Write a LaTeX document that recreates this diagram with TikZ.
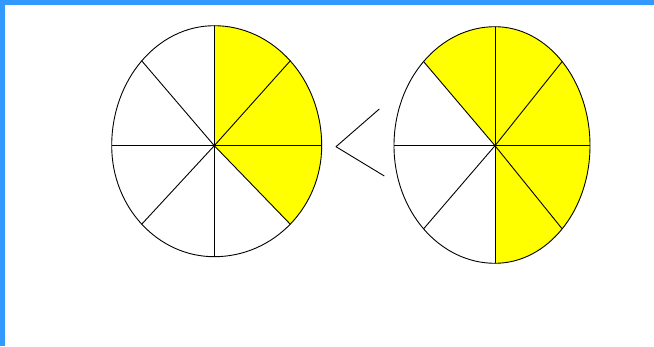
\documentclass[tikz,border=0pt]{standalone}
\definecolor{framblue}{RGB}{51,153,255}
\definecolor{piey}{RGB}{255,255,0}
\tikzset{
  outline/.style={draw=black,line width=0.9pt,line join=round},
  yfill/.style={fill=piey}
}
% #1 name, #2 cx, #3 cy, #4 right radius, #5 left radius, #6 upper radius, #7 lower radius, #8 yellow sectors
\newcommand\pieWheel[8]{%
  \coordinate (#1c) at (#2,#3);
  \foreach \k in {0,...,7}{%
    \pgfmathsetmacro\rx{(\k<2||\k>5)?#4:#5}%
    \pgfmathsetmacro\ry{(\k<4)?#6:#7}%
    \pgfmathsetmacro\px{#2+\rx*cos(45*\k)}%
    \pgfmathsetmacro\py{#3+\ry*sin(45*\k)}%
    \coordinate (#1p\k) at (\px,\py);
  }
  \foreach \k in {#8}{%
    \pgfmathsetmacro\rx{(\k<2||\k>5)?#4:#5}%
    \pgfmathsetmacro\ry{(\k<4)?#6:#7}%
    \fill[yfill] (#1c) -- (#1p\k) arc[start angle=45*\k, end angle=45*\k+45, x radius=\rx pt, y radius=\ry pt] -- cycle;
  }
  \foreach \k in {0,...,7}{\draw[outline] (#1c) -- (#1p\k);}
  \draw[outline] (#1p0) arc[start angle=0, end angle=90, x radius=#4pt, y radius=#6pt]
     arc[start angle=90, end angle=180, x radius=#5pt, y radius=#6pt]
     arc[start angle=180, end angle=270, x radius=#5pt, y radius=#7pt]
     arc[start angle=270, end angle=360, x radius=#4pt, y radius=#7pt] -- cycle;
}
\begin{document}
\begin{tikzpicture}[x=1pt,y=1pt]
  \useasboundingbox (0,0) rectangle (654,346);
  \fill[white] (0,0) rectangle (654,346);
  \fill[framblue] (0,341) rectangle (654,346);
  \fill[framblue] (0,0) rectangle (5,346);
  \pieWheel{L}{214.3}{200.3}{107.4}{102.6}{120}{111}{0,1,7}
  \pieWheel{R}{495}{200.3}{95}{101}{119}{117.6}{0,1,2,6,7}
  \coordinate (lt1) at (379.3,237);
  \coordinate (lt2) at (336,199.3);
  \coordinate (lt3) at (384.3,170);
  \draw[outline] (lt1) -- (lt2) -- (lt3);
\end{tikzpicture}
\end{document}
